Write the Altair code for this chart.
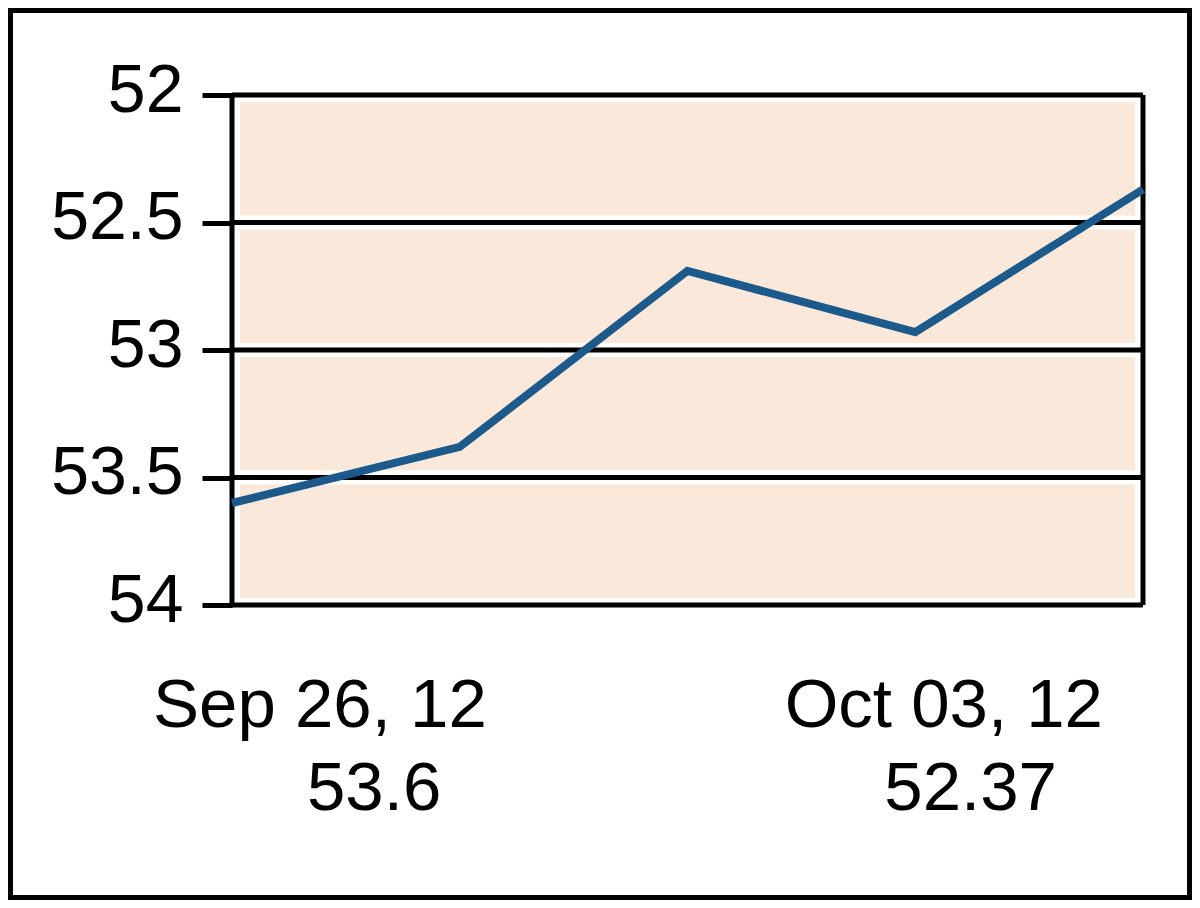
import altair as alt
import pandas as pd

# ---- data ----
dates = ["Sep 26, 12", "Sep 27, 12", "Sep 28, 12", "Oct 02, 12", "Oct 03, 12"]
values = [53.60, 53.38, 52.69, 52.93, 52.37]
y_ticks = [52, 52.5, 53, 53.5, 54]
end_value_labels = ["53.6", "52.37"]

W, H = 911, 510
PAD = {"left": 224, "top": 87, "right": 49, "bottom": 295}
FONT = "Liberation Sans"

df = pd.DataFrame({"idx": list(range(len(dates))), "date": dates, "value": values})
ticks_df = pd.DataFrame({"v": y_ticks})
lab_df = pd.DataFrame({"idx": [0, len(dates) - 1], "vl": end_value_labels})
one = alt.Data(values=[{"a": 1}])

xs = alt.Scale(domain=[0, len(dates) - 1], nice=False, zero=False)
ys = alt.Scale(domain=[52, 54], reverse=True, nice=False, zero=False)

yaxis = alt.Axis(
    values=y_ticks,
    format="~g",
    grid=False,
    domain=False,
    ticks=True,
    tickSize=30,
    tickWidth=5,
    tickColor="black",
    labelFont=FONT,
    labelFontSize=68,
    labelColor="black",
    labelPadding=19,
    labelOffset=-4,
    title=None,
    zindex=1,
)

# white halos
halo_h = alt.Chart(ticks_df).mark_rule(color="white", strokeWidth=14).encode(
    y=alt.Y("v:Q", scale=ys, axis=yaxis)
)
halo_l = alt.Chart(one).mark_rule(color="white", strokeWidth=6).encode(x=alt.value(5))
halo_r = alt.Chart(one).mark_rule(color="white", strokeWidth=6).encode(x=alt.value(W - 5))

# black grid / frame
grid = alt.Chart(ticks_df).mark_rule(color="black", strokeWidth=5).encode(
    y=alt.Y("v:Q", scale=ys, axis=yaxis)
)
frame_l = alt.Chart(one).mark_rule(color="black", strokeWidth=5).encode(x=alt.value(0))
frame_r = alt.Chart(one).mark_rule(color="black", strokeWidth=5).encode(x=alt.value(W))

line = alt.Chart(df).mark_line(color="#1c5a8c", strokeWidth=8).encode(
    x=alt.X("idx:Q", scale=xs, axis=None),
    y=alt.Y("value:Q", scale=ys, axis=yaxis),
)


def date_label(idx, align, dx, y):
    return (
        alt.Chart(df)
        .transform_filter(alt.datum.idx == idx)
        .mark_text(font=FONT, fontSize=69, color="black", align=align, baseline="alphabetic", dx=dx)
        .encode(x=alt.X("idx:Q", scale=xs, axis=None), y=alt.value(y), text="date:N")
    )


def value_label(idx, align, dx, y):
    return (
        alt.Chart(lab_df)
        .transform_filter(alt.datum.idx == idx)
        .mark_text(font=FONT, fontSize=69, color="black", align=align, baseline="alphabetic", dx=dx)
        .encode(x=alt.X("idx:Q", scale=xs, axis=None), y=alt.value(y), text="vl:N")
    )


last = len(dates) - 1
l1 = date_label(0, "left", -79, 632)
l2 = value_label(0, "left", 75, 715)
l3 = date_label(last, "right", -40, 632)
l4 = value_label(last, "right", -86, 715)

border = alt.Chart(one).mark_rect(fill=None, stroke="black", strokeWidth=5).encode(
    x=alt.value(-PAD["left"] + 2.5),
    x2=alt.value(W + PAD["right"] - 2.5),
    y=alt.value(-PAD["top"] + 2.5),
    y2=alt.value(H + PAD["bottom"] - 2.5),
)

chart = (
    alt.layer(halo_h, halo_l, halo_r, grid, frame_l, frame_r, line, l1, l2, l3, l4, border)
    .properties(
        width=W,
        height=H,
        padding=PAD,
        autosize=alt.AutoSizeParams(type="none"),
        background="white",
    )
    .configure_view(fill="#FAE9DA", stroke=None)
)

chart.save("out.html", embed_options={"renderer": "svg", "actions": False})
